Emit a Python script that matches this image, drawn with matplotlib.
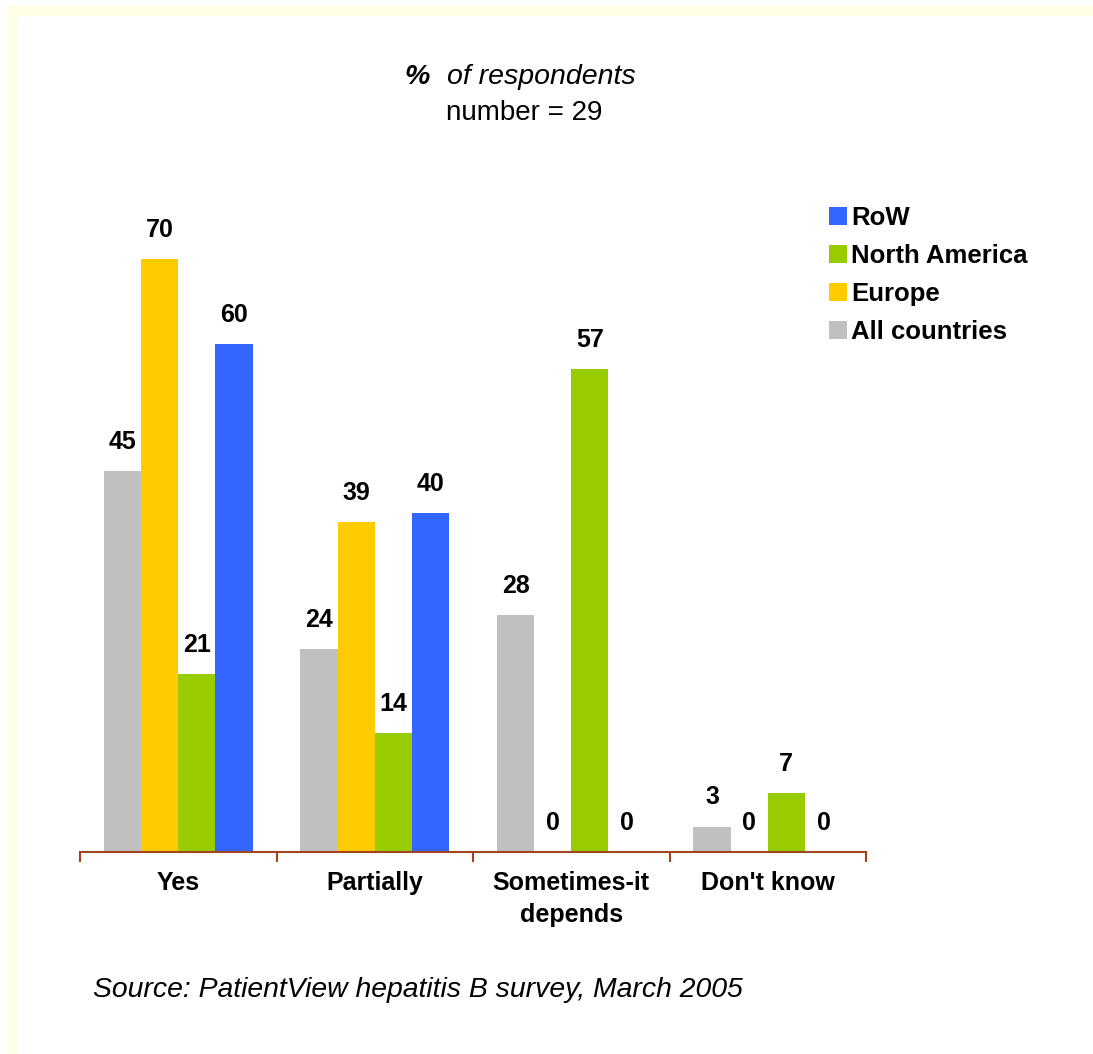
import numpy as np
import matplotlib.pyplot as plt
from matplotlib.patches import Rectangle

# Dados
categorias = ["Yes", "Partially", "Sometimes-it\ndepends", "Don't know"]
all_countries = [45, 24, 28, 3]
europe = [70, 39, 0, 0]
north_america = [21, 14, 57, 7]
row = [60, 40, 0, 0]

series = [
    ("All countries", all_countries, "#C0C0C0"),
    ("Europe", europe, "#FFCC00"),
    ("North America", north_america, "#99CC00"),
    ("RoW", row, "#3366FF"),
]

plt.rcParams["font.family"] = ["Liberation Sans", "DejaVu Sans"]

fig = plt.figure(figsize=(10.93, 10.54), dpi=100)

# borda amarelada no topo e na esquerda
fig.patches.append(Rectangle((7 / 1093, 0), 9 / 1093, 1 - 6 / 1054,
                             transform=fig.transFigure, color="#FFFFE6", zorder=0))
fig.patches.append(Rectangle((7 / 1093, 1 - 15 / 1054), 1 - 7 / 1093, 9 / 1054,
                             transform=fig.transFigure, color="#FFFFE6", zorder=0))

ax = fig.add_axes([80 / 1093, 1 - 852 / 1054, 786 / 1093, 0.6428])

x = np.arange(len(categorias))
largura = 0.189
handles = []
for i, (nome, valores, cor) in enumerate(series):
    pos = x + (i - 1.5) * largura
    barras = ax.bar(pos, valores, width=largura, color=cor, label=nome)
    handles.append(barras)
    for xp, v in zip(pos, valores):
        ax.annotate(str(v), (xp, v), xytext=(0, 21), textcoords="offset points",
                    ha="center", va="center", fontsize=18, fontweight="bold")

ax.set_xlim(-0.5, 3.5)
ax.set_ylim(0, 80)
for lado in ["top", "right", "left"]:
    ax.spines[lado].set_visible(False)
ax.spines["bottom"].set_color("#A0461E")
ax.spines["bottom"].set_linewidth(1.5)
ax.set_yticks([])
ax.set_xticks(x)
ax.set_xticklabels(categorias, fontsize=18, fontweight="bold", linespacing=1.4)
ax.tick_params(axis="x", which="major", length=0, pad=14)
ax.set_xticks(np.arange(-0.5, 4, 1), minor=True)
ax.tick_params(axis="x", which="minor", length=7, width=1.5, color="#A0461E", direction="out")

# legenda
ax.legend(handles=handles[::-1], loc="upper left", bbox_to_anchor=(829 / 1093, 1 - 206 / 1054),
          bbox_transform=fig.transFigure, frameon=False, handlelength=0.7, handleheight=0.7,
          handletextpad=0.15, labelspacing=0.55, borderpad=0, borderaxespad=0,
          prop={"size": 18.5, "weight": "bold"})

# títulos
fig.text(430 / 1093, 1 - 77 / 1054, "%", fontsize=20.5, fontweight="bold", style="italic",
         ha="right", va="center")
fig.text(447 / 1093, 1 - 77 / 1054, "of respondents", fontsize=20.5, style="italic",
         ha="left", va="center")
fig.text(524 / 1093, 1 - 113 / 1054, "number = 29", fontsize=20, ha="center", va="center")

fig.text(93 / 1093, 1 - 990 / 1054, "Source: PatientView hepatitis B survey, March 2005",
         fontsize=20.4, style="italic", ha="left", va="center")

plt.savefig("out.png", dpi=100)
plt.close()
